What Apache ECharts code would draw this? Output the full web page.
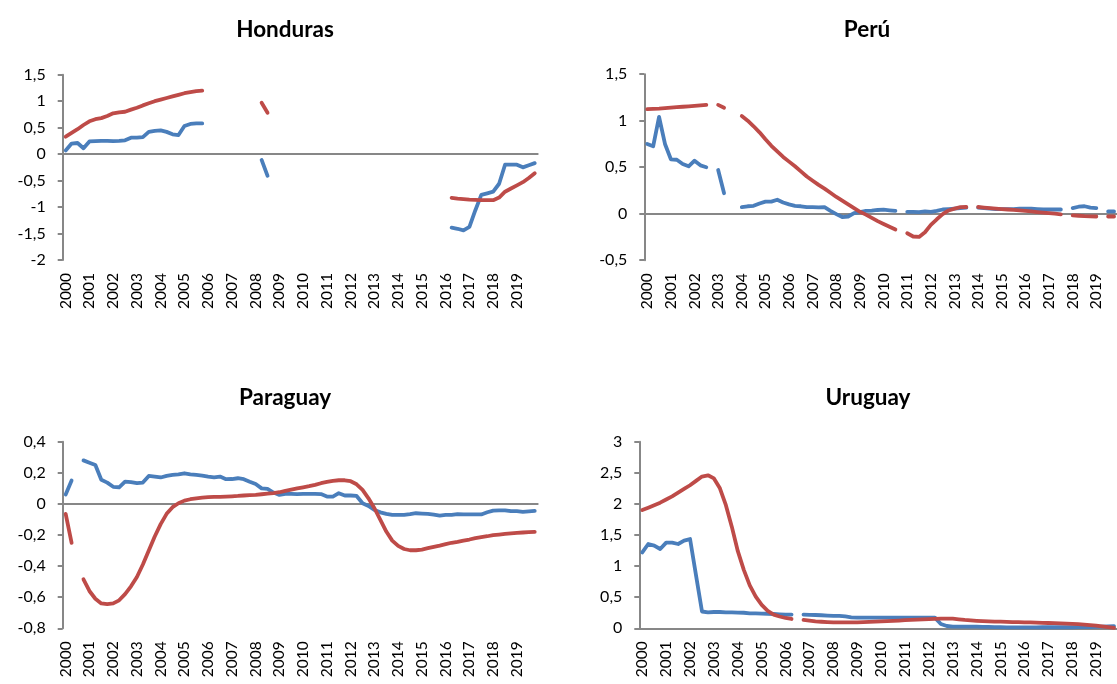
<!DOCTYPE html>
<html>
<head>
<meta charset="utf-8">
<script src="https://cdn.jsdelivr.net/npm/echarts@6/dist/echarts.min.js"></script>
<style>
  html, body { margin: 0; padding: 0; background: #ffffff; }
  #chart { width: 1117px; height: 684px; }
</style>
</head>
<body>
<div id="chart"></div>
<script>
// Year tick labels; the series are quarterly (four points per year).
const years = ['2000','2001','2002','2003','2004','2005','2006','2007','2008','2009',
               '2010','2011','2012','2013','2014','2015','2016','2017','2018','2019'];
const quarters = years.flatMap(y => ['T1', 'T2', 'T3', 'T4'].map(q => y + q));

// Honduras
const hondurasA = [
  0.07, 0.20, 0.21, 0.11,   0.24, 0.245, 0.25, 0.25,   0.245, 0.25, 0.26, 0.31,
  0.31, 0.32, 0.42, 0.44,   0.45, 0.42, 0.375, 0.36,   0.53, 0.57, 0.58, 0.58,
  null, null, null, null,   null, null, null, null,    null, -0.11, -0.41, null,
  null, null, null, null,   null, null, null, null,    null, null, null, null,
  null, null, null, null,   null, null, null, null,    null, null, null, null,
  null, null, null, null,   null, -1.39, -1.41, -1.44, -1.375, -1.06, -0.77, -0.74,
  -0.71, -0.56, -0.20, -0.20, -0.20, -0.25, -0.21, -0.17
];
const hondurasB = [
  0.33, 0.40, 0.47, 0.55,   0.62, 0.66, 0.68, 0.72,    0.77, 0.79, 0.80, 0.84,
  0.875, 0.92, 0.96, 1.00,  1.03, 1.06, 1.09, 1.12,    1.15, 1.17, 1.19, 1.20,
  null, null, null, null,   null, null, null, null,    null, 0.97, 0.78, null,
  null, null, null, null,   null, null, null, null,    null, null, null, null,
  null, null, null, null,   null, null, null, null,    null, null, null, null,
  null, null, null, null,   null, -0.825, -0.84, -0.85, -0.86, -0.865, -0.87, -0.87,
  -0.87, -0.82, -0.71, -0.65, -0.59, -0.53, -0.45, -0.36
];

// Perú
const peruA = [
  0.75, 0.725, 1.04, 0.75,  0.585, 0.58, 0.535, 0.51,  0.57, 0.52, 0.50, null,
  0.47, 0.22, null, null,   0.07, 0.08, 0.085, 0.11,   0.13, 0.13, 0.15, 0.12,
  0.10, 0.085, 0.08, 0.07,  0.07, 0.068, 0.07, 0.03,   -0.005, -0.036, -0.03, 0.007,
  0.018, 0.03, 0.032, 0.04, 0.043, 0.036, 0.03, null,  0.02, 0.02, 0.018, 0.025,
  0.02, 0.03, 0.045, 0.05,  0.055, 0.06, 0.065, null,  0.065, 0.06, 0.055, 0.05,
  0.05, 0.05, 0.05, 0.055,  0.055, 0.055, 0.05, 0.045, 0.045, 0.045, 0.045, null,
  0.06, 0.075, 0.08, 0.065, 0.06, null, 0.025, 0.025
];
const peruB = [
  1.125, 1.127, 1.13, 1.135, 1.14, 1.145, 1.15, 1.155, 1.16, 1.165, 1.17, null,
  1.17, 1.14, null, null,   1.05, 1.00, 0.94, 0.875,   0.80, 0.73, 0.67, 0.61,
  0.56, 0.51, 0.455, 0.40,  0.355, 0.31, 0.27, 0.225,  0.18, 0.14, 0.10, 0.06,
  0.02, -0.01, -0.045, -0.08, -0.11, -0.14, -0.17, null, -0.21, -0.245, -0.25, -0.20,
  -0.12, -0.06, -0.005, 0.035, 0.055, 0.07, 0.072, null, 0.072, 0.066, 0.06, 0.055,
  0.05, 0.045, 0.04, 0.035, 0.03, 0.024, 0.018, 0.012, 0.007, 0.0, -0.007, null,
  -0.018, -0.022, -0.026, -0.028, -0.03, null, -0.03, -0.03
];

// Paraguay
const paraguayA = [
  0.06, 0.15, null, 0.28,   0.265, 0.25, 0.155, 0.137, 0.11, 0.107, 0.143, 0.14,
  0.133, 0.137, 0.18, 0.176, 0.17, 0.18, 0.186, 0.19,  0.197, 0.19, 0.186, 0.182,
  0.176, 0.171, 0.176, 0.159, 0.16, 0.165, 0.159, 0.143, 0.128, 0.10, 0.096, 0.073,
  0.058, 0.064, 0.064, 0.063, 0.064, 0.064, 0.064, 0.063, 0.047, 0.047, 0.069, 0.054,
  0.054, 0.051, 0.004, -0.013, -0.039, -0.054, -0.064, -0.071, -0.071, -0.071, -0.066, -0.06,
  -0.062, -0.064, -0.069, -0.075, -0.071, -0.071, -0.066, -0.068, -0.068, -0.068, -0.068, -0.054,
  -0.043, -0.041, -0.041, -0.047, -0.047, -0.051, -0.048, -0.045
];
const paraguayB = [
  -0.064, -0.25, null, -0.485, -0.56, -0.61, -0.64, -0.645, -0.64, -0.62, -0.58, -0.53,
  -0.47, -0.39, -0.30, -0.21, -0.13, -0.064, -0.021, 0.004, 0.021, 0.03, 0.036, 0.04,
  0.043, 0.045, 0.045, 0.047, 0.049, 0.051, 0.054, 0.056, 0.058, 0.062, 0.066, 0.07,
  0.075, 0.084, 0.092, 0.10, 0.107, 0.114, 0.122, 0.133, 0.141, 0.148, 0.152, 0.152,
  0.146, 0.126, 0.09, 0.036, -0.028, -0.103, -0.178, -0.236, -0.27, -0.29, -0.298, -0.298,
  -0.294, -0.285, -0.276, -0.268, -0.259, -0.25, -0.244, -0.236, -0.229, -0.22, -0.214, -0.208,
  -0.201, -0.197, -0.193, -0.189, -0.186, -0.184, -0.182, -0.18
];

// Uruguay
const uruguayA = [
  1.22, 1.355, 1.33, 1.275, 1.377, 1.377, 1.355, 1.41, 1.435, 0.85, 0.27, 0.257,
  0.262, 0.262, 0.257, 0.257, 0.252, 0.25, 0.24, 0.24, 0.236, 0.234, 0.23, 0.225,
  0.22, 0.22, null, 0.22,   0.216, 0.214, 0.21, 0.205, 0.20, 0.20, 0.19, 0.177,
  0.172, 0.172, 0.171, 0.171, 0.171, 0.171, 0.171, 0.171, 0.171, 0.171, 0.171, 0.171,
  0.171, 0.171, 0.07, 0.037, 0.027, 0.027, 0.027, 0.027, 0.027, 0.024, 0.022, 0.02,
  0.018, 0.016, 0.016, 0.016, 0.016, 0.016, 0.016, 0.017, 0.017, 0.017, 0.017, 0.017,
  0.017, 0.018, 0.018, 0.02, 0.022, 0.026, 0.03, 0.035
];
const uruguayB = [
  1.90, 1.94, 1.98, 2.02,   2.07, 2.12, 2.18, 2.24,    2.30, 2.37, 2.44, 2.46,
  2.41, 2.25, 1.98, 1.63,   1.24, 0.94, 0.69, 0.51,    0.375, 0.28, 0.22, 0.19,
  0.166, 0.15, null, 0.134, 0.123, 0.112, 0.105, 0.10, 0.096, 0.095, 0.095, 0.095,
  0.096, 0.098, 0.102, 0.106, 0.11, 0.114, 0.118, 0.124, 0.13, 0.136, 0.14, 0.145,
  0.148, 0.152, 0.155, 0.156, 0.155, 0.145, 0.134, 0.126, 0.12, 0.116, 0.112, 0.108,
  0.106, 0.104, 0.10, 0.098, 0.096, 0.094, 0.092, 0.088, 0.085, 0.082, 0.078, 0.074,
  0.07, 0.066, 0.06, 0.052, 0.044, 0.03, 0.018, 0.008
];

const FONT = 'Lato, "Liberation Sans", sans-serif';
const AXIS_GREY = '#878787';
const BLUE = '#4A7EBB';
const RED = '#BE4B48';

const panels = [
  { name: 'Honduras', a: hondurasA, b: hondurasB, min: -2, max: 1.5, step: 0.5,
    grid: { left: 62.7, top: 74.7, width: 475, height: 185.3 }, titleX: 280, titleY: 13 },
  { name: 'Perú', a: peruA, b: peruB, min: -0.5, max: 1.5, step: 0.5,
    grid: { left: 644.3, top: 74.2, width: 477.3, height: 186 }, titleX: 862, titleY: 13 },
  { name: 'Paraguay', a: paraguayA, b: paraguayB, min: -0.8, max: 0.4, step: 0.2,
    grid: { left: 62.7, top: 441.7, width: 475, height: 186.6 }, titleX: 280, titleY: 381 },
  { name: 'Uruguay', a: uruguayA, b: uruguayB, min: 0, max: 3, step: 0.5,
    grid: { left: 639.3, top: 441.7, width: 484, height: 186.6 }, titleX: 863, titleY: 381 }
];

// Decimal comma for the value axes
const decimalComma = v => String(+v.toFixed(2)).replace('.', ',');

const option = {
  animation: false,
  backgroundColor: '#ffffff',
  title: panels.map(p => ({
    text: p.name, left: p.titleX, top: p.titleY, textAlign: 'center',
    textStyle: { fontFamily: FONT, fontWeight: 'bold', fontSize: 22.5, color: '#000' }
  })),
  grid: panels.map(p => Object.assign({ containLabel: false }, p.grid)),
  xAxis: panels.flatMap((p, k) => [
    // year labels along the bottom of the plot
    {
      type: 'category', gridIndex: k, data: quarters, boundaryGap: true, position: 'bottom',
      axisLine: { show: false, onZero: false },
      axisTick: { show: false },
      splitLine: { show: false },
      axisLabel: {
        interval: 3, rotate: 90, margin: 13, color: '#000',
        fontFamily: FONT, fontSize: 15.5,
        formatter: v => v.slice(0, 4)
      }
    },
    // horizontal line crossing the value axis at zero
    {
      type: 'category', gridIndex: k, data: quarters, boundaryGap: true, position: 'bottom',
      axisLine: { show: true, onZero: true, lineStyle: { color: AXIS_GREY, width: 2 } },
      axisTick: { show: false },
      axisLabel: { show: false },
      splitLine: { show: false }
    }
  ]),
  yAxis: panels.map((p, k) => ({
    type: 'value', gridIndex: k, min: p.min, max: p.max, interval: p.step,
    axisLine: { show: true, onZero: false, lineStyle: { color: AXIS_GREY, width: 2 } },
    axisTick: { show: true, length: 5, lineStyle: { color: AXIS_GREY, width: 2 } },
    splitLine: { show: false },
    axisLabel: { margin: 17, color: '#000', fontFamily: FONT, fontSize: 16, formatter: decimalComma }
  })),
  series: panels.flatMap((p, k) => [
    { data: p.a, color: BLUE },
    { data: p.b, color: RED }
  ].map((s, j) => ({
    type: 'line', name: p.name + (j ? ' B' : ' A'),
    xAxisIndex: 2 * k, yAxisIndex: k,
    data: s.data, connectNulls: false, smooth: false,
    symbol: 'none', showSymbol: false, silent: true,
    lineStyle: { color: s.color, width: 3.8, cap: 'round', join: 'round' },
    itemStyle: { color: s.color },
    z: 3 + j
  })))
};

const chart = echarts.init(document.getElementById('chart'), null, { renderer: 'canvas' });
chart.setOption(option);
</script>
</body>
</html>
